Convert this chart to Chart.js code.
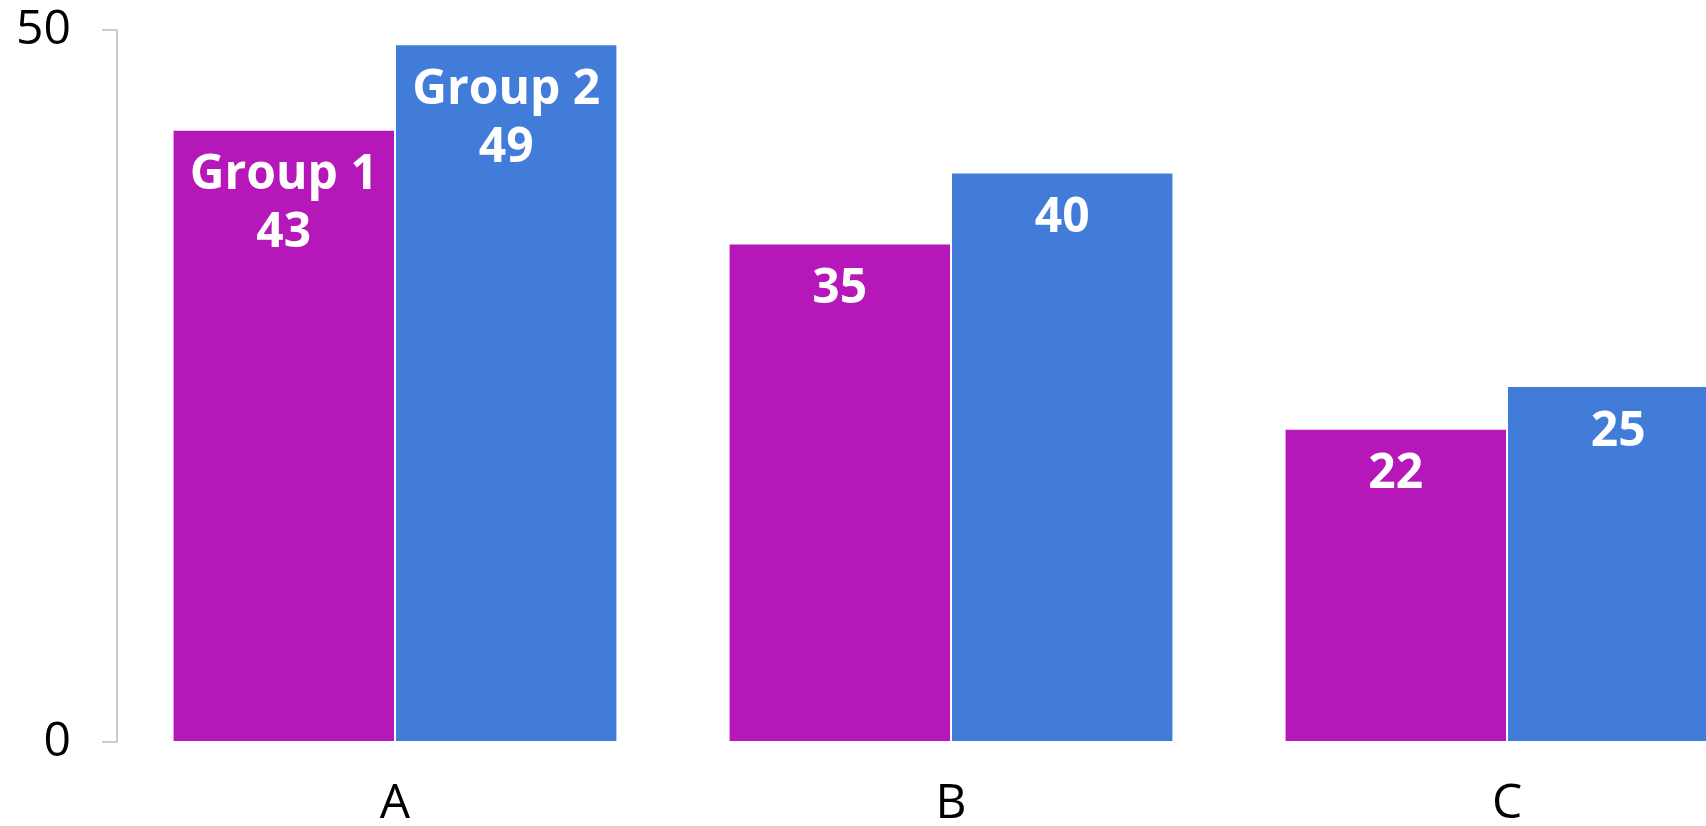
<!DOCTYPE html>
<html>
<head>
<meta charset="utf-8">
<script src="https://cdn.jsdelivr.net/npm/chart.js@4/dist/chart.umd.min.js"></script>
<style>
  html, body { margin: 0; padding: 0; background: #fff; overflow: hidden; }
  #wrap { width: 1785px; height: 826px; }
</style>
</head>
<body>
<div id="wrap"><canvas id="grafico" width="1785" height="826"></canvas></div>
<script>
const categorias = ['A', 'B', 'C'];
const nomesSeries = ['Group 1', 'Group 2'];
const group1 = [43, 35, 22];
const group2 = [49, 40, 25];
const yTicks = [0, 50];

const fonte = '"Open Sans", "DejaVu Sans", sans-serif';

// rotulos brancos dentro das barras (nome da serie so na primeira categoria)
const rotulosPlugin = {
    id: 'rotulos',
    afterDatasetsDraw(chart) {
        const ctx = chart.ctx;
        ctx.save();
        ctx.fillStyle = '#fff';
        ctx.font = 'bold 48px ' + fonte;
        ctx.textAlign = 'center';
        ctx.textBaseline = 'middle';
        chart.data.datasets.forEach((ds, di) => {
            const meta = chart.getDatasetMeta(di);
            meta.data.forEach((bar, i) => {
                const linhas = i === 0 ? [ds.label, String(ds.data[i])] : [String(ds.data[i])];
                linhas.forEach((txt, l) => {
                    ctx.fillText(txt, bar.x, bar.y + 46 + l * 58);
                });
            });
        });
        ctx.restore();
    }
};

new Chart(document.getElementById('grafico'), {
    type: 'bar',
    data: {
        labels: categorias,
        datasets: [
            {
                label: nomesSeries[0],
                data: group1,
                backgroundColor: '#B517B8',
                borderColor: '#fff',
                borderWidth: 1,
                categoryPercentage: 0.8,
                barPercentage: 1.0
            },
            {
                label: nomesSeries[1],
                data: group2,
                backgroundColor: '#417CD9',
                borderColor: '#fff',
                borderWidth: 1,
                categoryPercentage: 0.8,
                barPercentage: 1.0
            }
        ]
    },
    options: {
        responsive: false,
        animation: false,
        layout: { padding: { top: 30, right: 0, left: 0, bottom: 0 } },
        plugins: {
            legend: { display: false },
            tooltip: { enabled: false }
        },
        scales: {
            x: {
                grid: { display: false },
                border: { display: false },
                ticks: { color: '#000', font: { family: fonte, size: 48 }, padding: 26 },
                afterFit: (s) => { s.height = 84; }
            },
            y: {
                min: yTicks[0],
                max: yTicks[yTicks.length - 1],
                afterBuildTicks: (s) => { s.ticks = yTicks.map(v => ({ value: v })); },
                grid: { drawOnChartArea: false, drawTicks: true, tickLength: 15, color: '#cccccc', lineWidth: 2 },
                border: { color: '#cccccc', width: 2 },
                ticks: { color: '#000', font: { family: fonte, size: 48 }, padding: 31 },
                afterFit: (s) => {
                    s.width = 117;
                    s.paddingTop = 0;  // senao o padding dos ticks empurra a area pra baixo
                    s.paddingBottom = 0;
                }
            }
        }
    },
    plugins: [rotulosPlugin]
});
</script>
</body>
</html>
